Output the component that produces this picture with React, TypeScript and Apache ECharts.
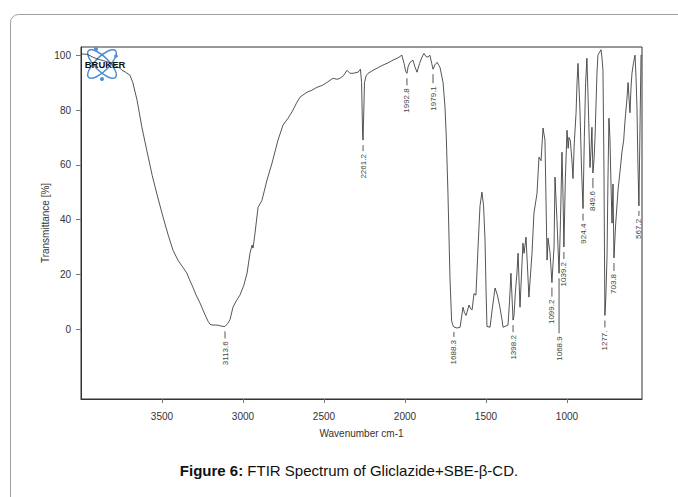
import React, { useEffect, useRef } from "react";
import * as echarts from "echarts";

// Spectrum: wavenumber (cm-1) and transmittance (%) as plotted
const wavenumbers = [
  4000, 3960, 3930, 3895, 3860, 3820, 3790, 3760, 3747, 3725, 3698, 3680, 3654, 3625, 3593, 3560, 3530, 3494, 3460, 3432,
  3400, 3370, 3346, 3330, 3309, 3290, 3265, 3240, 3215, 3204, 3191, 3160, 3140, 3123, 3111, 3095, 3080, 3062, 3040, 3019,
  2995, 2975, 2957, 2944, 2938, 2926, 2907, 2883, 2852, 2821, 2784, 2753, 2722, 2691, 2670, 2648, 2605, 2575, 2543, 2510,
  2481, 2444, 2420, 2401, 2380, 2358, 2340, 2321, 2290, 2275, 2268, 2262, 2259, 2255, 2250, 2240, 2228, 2197, 2165, 2136,
  2105, 2074, 2045, 2019, 2006, 1995, 1988, 1980, 1969, 1951, 1940, 1926, 1910, 1895, 1883, 1870, 1858, 1846, 1835, 1827,
  1815, 1802, 1790, 1784, 1765, 1753, 1745, 1735, 1722, 1712, 1705, 1698, 1679, 1660, 1642, 1633, 1623, 1605, 1595, 1586,
  1574, 1562, 1549, 1537, 1525, 1515, 1506, 1500, 1494, 1475, 1460, 1444, 1430, 1414, 1400, 1395, 1364, 1355, 1346, 1333,
  1327, 1318, 1309, 1302, 1290, 1272, 1265, 1253, 1235, 1216, 1204, 1185, 1173, 1160, 1148, 1136, 1123, 1117, 1105, 1093,
  1080, 1074, 1062, 1049, 1040, 1031, 1025, 1019, 1010, 1000, 993, 988, 980, 970, 963, 955, 944, 938, 932, 920,
  910, 901, 893, 885, 877, 870, 858, 852, 846, 840, 833, 827, 815, 809, 800, 790, 784, 778, 772, 766,
  760, 753, 747, 741, 735, 728, 722, 716, 710, 700, 685, 672, 660, 650, 642, 630, 623, 617, 611, 605,
  599, 590, 580, 574, 568, 562, 556, 549, 543, 537,
];
const transmittance = [
  100.5, 100.3, 99.4, 98.5, 98.0, 97.2, 96.2, 95.3, 94.5, 93.8, 92.7, 90, 83.6, 74, 65, 56, 49, 41, 34, 28.8,
  25, 22.5, 20.4, 18, 15.3, 12.5, 9.5, 6, 2.8, 1.8, 1.5, 1.5, 1.2, 1.0, 1.0, 2.0, 3.5, 8, 10.5, 12.4,
  16, 20.4, 27.7, 30.7, 29.6, 35, 44.5, 47, 54.4, 60.6, 69, 74.5, 77, 80, 82.5, 84.7, 86.5, 87.2, 88.3, 89,
  90.1, 91.6, 91.2, 91.6, 92.5, 94.5, 93.4, 93.4, 93.8, 94.9, 90, 72, 69, 78, 90, 92.5, 93.4, 94.5, 95.5, 96.4,
  97.2, 98.2, 99, 100, 97, 94, 93.4, 96, 97.4, 98.2, 96, 93.8, 97, 99.3, 100.7, 99.5, 99.3, 100, 97, 94.9,
  96.5, 97.4, 96.2, 95.6, 90, 81, 70, 50, 18, 3, 1.5, 0.8, 0.4, 0.7, 8, 6, 5, 8.8, 7.5, 7,
  13, 12.4, 30, 45, 50, 45, 32.5, 15, 1, 0.7, 8, 15, 12.5, 8, 3, 0.7, 1.5, 10, 20.4, 3.3,
  5, 14, 20.4, 27.7, 8, 31.4, 27.7, 33.6, 11.7, 27.7, 42.3, 49.6, 62.8, 61.5, 73.4, 69, 25.2, 33.2, 28, 17,
  30, 55.5, 40, 20.4, 40, 64.6, 50, 30, 55, 72.6, 66, 70, 69, 62, 55, 68, 79, 90, 97, 80,
  58, 44, 70, 90, 98.9, 85, 59, 65, 73.7, 57, 62, 70, 93.4, 100, 101, 102, 99, 94.5, 60, 5,
  12, 26, 55, 77, 70, 52, 38.7, 53, 26, 38, 50.7, 58, 65, 69, 76, 84, 90, 84, 79, 88,
  93.4, 97, 100, 92, 81, 60, 45, 75, 100, 100,
];

// Peak annotations (as printed on the spectrum)
const peakLabels = ["3113.6", "2261.2", "1992.8", "1979.1", "1688.3", "1398.2", "1099.2", "1068.9", "1039.2", "924.4", "849.6", "1277.", "703.8", "567.2"];
const peakWavenumbers = [3111, 2259, 1988, 1827, 1698, 1333, 1093, 1049, 1019, 901, 840, 766, 710, 556];
const peakValues = [1.0, 69, 93.4, 94.9, 0.8, 3.3, 17, 20.4, 30, 44, 57, 5, 26, 45];

const xTicks = [1000, 1500, 2000, 2500, 3000, 3500];
const yTicks = [0, 20, 40, 60, 80, 100];

// leader line lengths (layout only)
const peakLeaders = [7, 6, 7, 9, 5, 7, 9, 55, 7, 7, 10, 7, 8, 5];

const FONT = "'Liberation Sans', Arial, sans-serif";

export default function App() {
  const ref = useRef<HTMLDivElement>(null);
  useEffect(() => {
    if (!ref.current) return;
    const chart = echarts.init(ref.current, null, { renderer: "svg" });
    const lineData = wavenumbers.map((w, i) => [w, transmittance[i]]);
    const peakData = peakWavenumbers.map((w, i) => [w, peakValues[i]]);
    const option: any = {
      animation: false,
      backgroundColor: "#fff",
      grid: {
        left: 81,
        top: 47,
        right: 36,
        bottom: 98,
        show: true,
        borderColor: "#333",
        borderWidth: 1,
        backgroundColor: "transparent",
      },
      xAxis: {
        type: "value",
        inverse: true,
        min: 537,
        max: 4000,
        name: "Wavenumber cm-1",
        nameLocation: "middle",
        nameGap: 29,
        nameMoveOverlap: false,
        nameTextStyle: { fontSize: 10, color: "#333", fontFamily: FONT },
        axisLine: { show: true, onZero: false, lineStyle: { color: "#333", width: 1 } },
        axisTick: { show: true, length: 4, customValues: xTicks, lineStyle: { color: "#777" } },
        axisLabel: {
          customValues: xTicks,
          fontSize: 10,
          color: "#333",
          margin: 12,
          fontFamily: FONT,
          formatter: (v: number) => String(v),
        },
        splitLine: { show: false },
      },
      yAxis: {
        type: "value",
        min: -25.5,
        max: 103,
        name: "Transmittance [%]",
        nameLocation: "middle",
        nameGap: 31,
        nameMoveOverlap: false,
        nameTextStyle: { fontSize: 10, color: "#333", fontFamily: FONT },
        axisLine: { show: true, onZero: false, lineStyle: { color: "#333", width: 1 } },
        axisTick: { show: true, length: 5, customValues: yTicks, lineStyle: { color: "#777" } },
        axisLabel: {
          customValues: yTicks,
          fontSize: 10,
          color: "#333",
          margin: 10,
          fontFamily: FONT,
          formatter: (v: number) => String(v),
        },
        splitLine: { show: false },
      },
      series: [
        {
          type: "line",
          data: lineData,
          showSymbol: false,
          symbol: "none",
          lineStyle: { color: "#2a2a2a", width: 0.8 },
          itemStyle: { color: "#2a2a2a" },
          silent: true,
          z: 3,
        },
        {
          type: "custom",
          data: peakData,
          silent: true,
          z: 4,
          itemStyle: { color: "#555" },
          renderItem: (params: any, api: any) => {
            const idx = params.dataIndex;
            const p = api.coord([api.value(0), api.value(1)]);
            const y0 = p[1] + 5;
            const y1 = y0 + peakLeaders[idx];
            return {
              type: "group",
              children: [
                {
                  type: "line",
                  shape: { x1: p[0], y1: y0, x2: p[0], y2: y1 },
                  style: { stroke: "#555", lineWidth: 1, fill: null },
                },
                {
                  type: "text",
                  x: p[0],
                  y: y1 + 3,
                  rotation: Math.PI / 2,
                  style: {
                    text: peakLabels[idx],
                    align: "right",
                    verticalAlign: "middle",
                    fontSize: 8,
                    fill: "#444",
                    stroke: null,
                    fontFamily: FONT,
                  },
                },
              ],
            };
          },
        },
      ],
      graphic: [
        {
          type: "rect",
          shape: { x: 10.5, y: 14.5, width: 700, height: 520, r: 8 },
          style: { fill: "none", stroke: "#a0a0a0", lineWidth: 1 },
          silent: true,
          z: 0,
        },
        {
          type: "group",
          x: 102,
          y: 64,
          z: 10,
          children: [
            { type: "ellipse", shape: { cx: 0, cy: 0, rx: 19, ry: 7 }, rotation: Math.PI / 4, style: { fill: "none", stroke: "#4a8fd6", lineWidth: 1.5 } },
            { type: "ellipse", shape: { cx: 0, cy: 0, rx: 19, ry: 7 }, rotation: -Math.PI / 4, style: { fill: "none", stroke: "#4a8fd6", lineWidth: 1.5 } },
            { type: "circle", shape: { cx: -6, cy: -15, r: 2 }, style: { fill: "#4a8fd6" } },
            { type: "circle", shape: { cx: 0, cy: 15, r: 2 }, style: { fill: "#4a8fd6" } },
            { type: "circle", shape: { cx: 14, cy: -8, r: 1.8 }, style: { fill: "#4a8fd6" } },
            {
              type: "text",
              x: 3,
              y: 0,
              style: { text: "BRUKER", align: "center", verticalAlign: "middle", fontSize: 9.5, fontWeight: "bold", fill: "#111", fontFamily: FONT },
            },
          ],
        },
        {
          type: "text",
          x: 349,
          y: 470,
          z: 10,
          style: {
            text: "{b|Figure 6:} FTIR Spectrum of Gliclazide+SBE-β-CD.",
            align: "center",
            verticalAlign: "middle",
            fontSize: 15,
            fill: "#111",
            fontFamily: FONT,
            rich: {
              b: { fontSize: 15, fontWeight: "bold", fill: "#111", fontFamily: FONT },
            },
          },
        },
      ],
    };
    chart.setOption(option);
    return () => chart.dispose();
  }, []);
  return (
    <div
      ref={ref}
      style={{ position: "absolute", left: 0, top: 0, width: 678, height: 497, background: "#fff" }}
    />
  );
}
